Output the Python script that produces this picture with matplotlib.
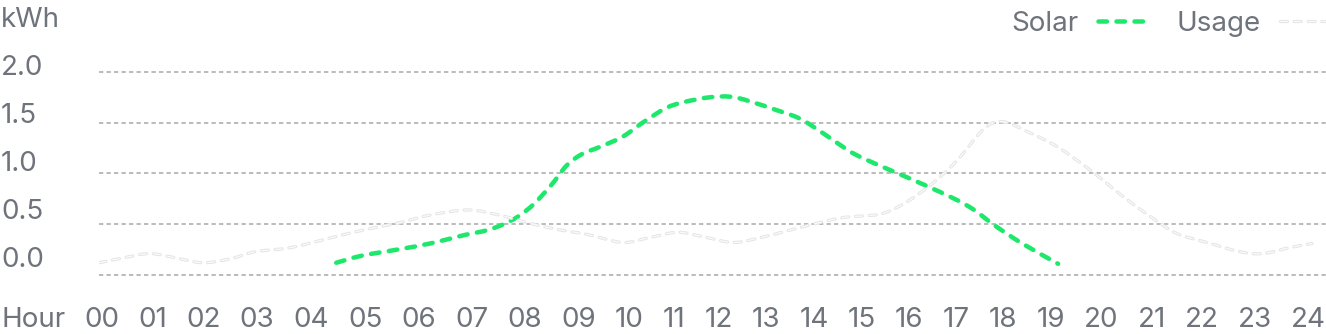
import matplotlib
matplotlib.use("Agg")
import matplotlib.pyplot as plt
import numpy as np
from matplotlib.path import Path
from matplotlib.patches import PathPatch
from matplotlib.lines import Line2D
from matplotlib.legend_handler import HandlerTuple

plt.rcParams['font.family'] = ['Inter', 'DejaVu Sans']
plt.rcParams['lines.scale_dashes'] = False

# ---------------- data ----------------
solar_hours = [4.69, 5.2, 5.9, 6.55, 7.2, 7.67, 8.0, 8.3, 8.6, 8.95, 9.25, 9.55, 9.9,
               10.35, 10.75, 11.2, 11.55, 12.1, 12.55, 13.05, 13.35, 13.85, 14.3, 14.8,
               15.1, 15.65, 16.3, 16.95, 17.3, 17.7, 18.25, 18.96]
solar_kwh = [0.12, 0.19, 0.25, 0.31, 0.39, 0.44, 0.50, 0.58, 0.70, 0.89, 1.08, 1.19, 1.26,
             1.36, 1.50, 1.64, 1.70, 1.75, 1.75, 1.68, 1.63, 1.54, 1.40, 1.23,
             1.15, 1.03, 0.89, 0.74, 0.64, 0.49, 0.31, 0.11]

usage_hours = [0.0, 0.5, 1.0, 1.5, 2.05, 2.6, 3.1, 3.8, 4.7, 5.3, 5.9, 6.55, 7.3, 7.9,
               8.5, 9.15, 9.65, 10.35, 10.9, 11.45, 12.0, 12.55, 13.1, 13.65, 14.65,
               15.45, 15.97, 16.5, 16.97, 17.48, 17.85, 18.4, 18.95, 19.6, 20.25, 20.8,
               21.3, 21.9, 22.55, 23.0, 23.55, 23.98]
usage_kwh = [0.12, 0.17, 0.21, 0.17, 0.12, 0.16, 0.23, 0.27, 0.38, 0.45, 0.51, 0.59, 0.64, 0.59,
             0.51, 0.44, 0.40, 0.32, 0.37, 0.42, 0.37, 0.32, 0.37, 0.44, 0.56,
             0.60, 0.72, 0.91, 1.13, 1.43, 1.51, 1.40, 1.26, 1.03, 0.77, 0.57,
             0.41, 0.32, 0.23, 0.21, 0.27, 0.31]

y_ticks = [2.0, 1.5, 1.0, 0.5, 0.0]
y_tick_labels = ["2.0", "1.5", "1.0", "0.5", "0.0"]
y_unit = "kWh"
x_title = "Hour"
x_tick_labels = ["00", "01", "02", "03", "04", "05", "06", "07", "08", "09", "10", "11", "12",
                 "13", "14", "15", "16", "17", "18", "19", "20", "21", "22", "23", "24"]
series_names = ["Solar", "Usage"]

# ---------------- style ----------------
W, H = 1326, 334
TEXT_COLOR = '#6e737c'
GREEN = '#1de86c'
GRID = '#bcbcbc'
USAGE_OUT = '#e4e4e4'
USAGE_IN = '#fafafa'
FS = 20
px = 0.72  # points per pixel at dpi 100

fig = plt.figure(figsize=(W / 100, H / 100), dpi=100)
fig.patch.set_facecolor('white')

ax = fig.add_axes([99 / W, (H - 278) / H, (W - 99) / W, (278 - 68.7) / H])
ax.set_xlim(0, 24.257)
ax.set_ylim(-0.03, 2.03)
for s in ax.spines.values():
    s.set_visible(False)
ax.set_yticks(y_ticks)
ax.set_xticks([])
ax.tick_params(left=False, labelleft=False, bottom=False, labelbottom=False)
ax.grid(axis='y', color=GRID, linewidth=2 * px, linestyle=(0, (4.3 * px, 3.2 * px)))
ax.set_axisbelow(True)


def smooth_path(xs, ys):
    pts = np.column_stack([xs, ys]).astype(float)
    n = len(pts)
    verts = [pts[0]]
    codes = [Path.MOVETO]
    for i in range(n - 1):
        p0 = pts[i - 1] if i > 0 else pts[i]
        p1 = pts[i]
        p2 = pts[i + 1]
        p3 = pts[i + 2] if i + 2 < n else pts[i + 1]
        c1 = p1 + (p2 - p0) / 6.0
        c2 = p2 - (p3 - p1) / 6.0
        verts += [c1, c2, p2]
        codes += [Path.CURVE4] * 3
    return Path(verts, codes)


solar_style = dict(color=GREEN, lw=4.5 * px, ls=(0, (8.5 * px, 9.5 * px)))
usage_out_style = dict(color=USAGE_OUT, lw=3.2 * px, ls=(0, (7 * px, 6.8 * px)))
usage_in_style = dict(color=USAGE_IN, lw=1.3 * px, ls=(0, (7 * px, 6.8 * px)))


def add_curve(xs, ys, style, z):
    p = PathPatch(smooth_path(xs, ys), fill=False, edgecolor=style['color'],
                  linewidth=style['lw'], linestyle=style['ls'], zorder=z)
    p.set_capstyle('round')
    p.set_joinstyle('round')
    ax.add_patch(p)


add_curve(solar_hours, solar_kwh, solar_style, 3)
add_curve(usage_hours, usage_kwh, usage_out_style, 4)
add_curve(usage_hours, usage_kwh, usage_in_style, 5)

# ---------------- legend ----------------
h_solar = Line2D([], [], color=GREEN, lw=solar_style['lw'], ls=solar_style['ls'],
                 dash_capstyle='round')
h_uo = Line2D([], [], color=USAGE_OUT, lw=usage_out_style['lw'], ls=usage_out_style['ls'],
              dash_capstyle='round')
h_ui = Line2D([], [], color=USAGE_IN, lw=usage_in_style['lw'], ls=usage_in_style['ls'],
              dash_capstyle='round')
leg = fig.legend([h_solar, (h_uo, h_ui)], series_names, loc='center right',
                 bbox_to_anchor=(1329 / W, 1 - 24 / H), ncol=2, frameon=False,
                 markerfirst=False, fontsize=FS, labelcolor=TEXT_COLOR,
                 handlelength=1.75, handletextpad=0.7, columnspacing=1.1,
                 borderpad=0, borderaxespad=0,
                 handler_map={tuple: HandlerTuple(ndivide=1, pad=0)})

# ---------------- y labels (column) ----------------
col = [y_unit] + y_tick_labels
for i, t in enumerate(col):
    fig.text(1 / W, 1 - (27 + 48 * i) / H, t, ha='left', va='baseline',
             fontsize=FS, color=TEXT_COLOR)

# ---------------- x labels (flex row, space-between) ----------------
row = [x_title] + x_tick_labels
texts = [fig.text(0, 1 - 327 / H, t, ha='left', va='baseline', fontsize=FS,
                  color=TEXT_COLOR) for t in row]
r = fig.canvas.get_renderer()
widths = [t.get_window_extent(renderer=r).width for t in texts]
left, right = 1.0, 1326.0
gap = (right - left - sum(widths)) / (len(texts) - 1)
x = left
for t, w in zip(texts, widths):
    t.set_x(x / W)
    x += w + gap

fig.savefig('out.png', dpi=100, facecolor='white')
